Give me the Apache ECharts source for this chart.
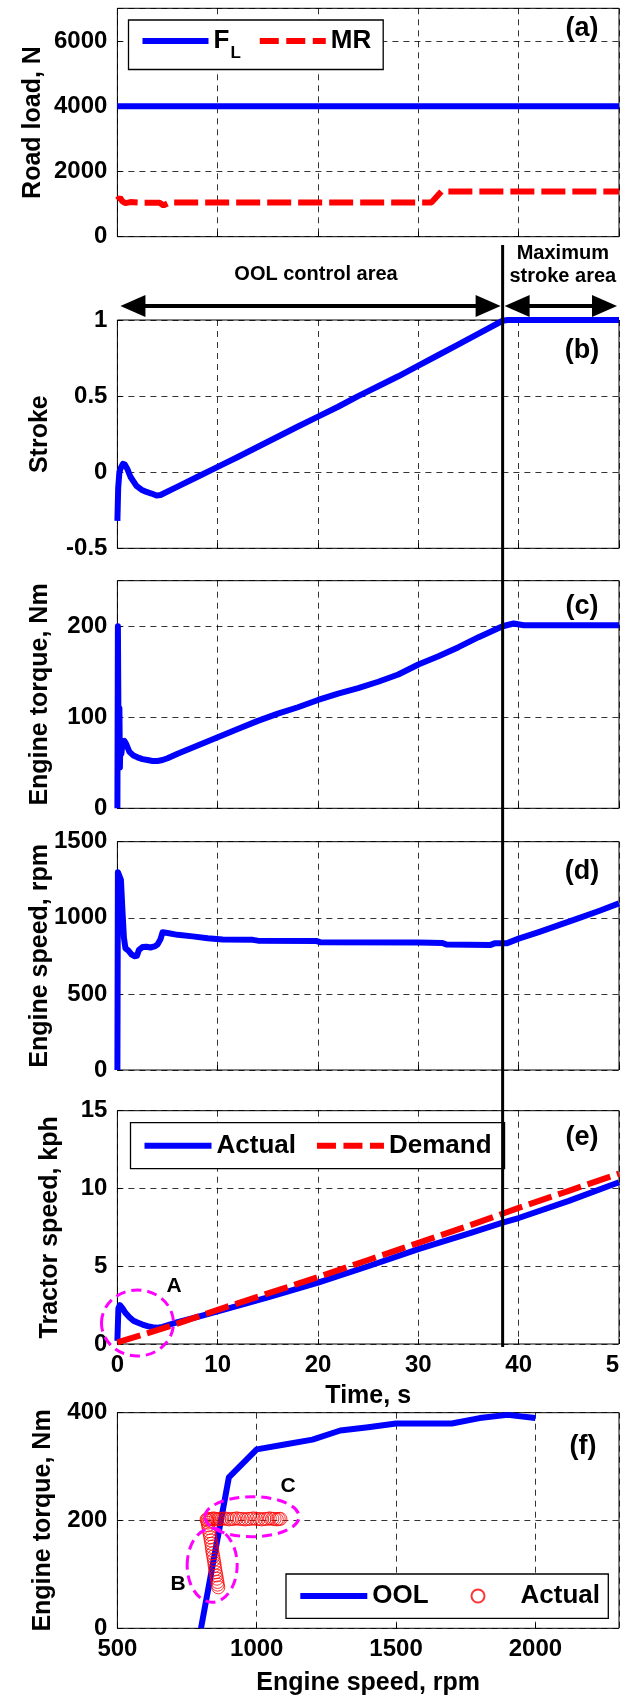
<!DOCTYPE html>
<html><head><meta charset="utf-8">
<script src="https://cdn.jsdelivr.net/npm/echarts@6/dist/echarts.min.js"></script>
<style>html,body{margin:0;padding:0;background:#fff}#c{width:620px;height:1698px}</style>
</head><body><div id="c"></div>
<script>
// ---------------- data ----------------
const timeFL = [0, 50];
const roadLoadFL = [4000, 4000];
const timeMR = [0, 0.25, 0.5, 0.8, 1.3, 2.5, 4.2, 4.6, 5.2, 31.3, 32.3, 50];
const roadLoadMR = [1120, 1200, 1080, 1030, 1060, 1040, 1040, 960, 1050, 1050, 1385, 1385];

const timeStroke = [0, 0.08, 0.2, 0.35, 0.55, 0.75, 1.0, 1.3, 1.6, 1.9, 2.4, 2.9, 3.4, 3.9, 4.3, 6, 8, 10, 12, 15, 18, 20, 22, 24, 26, 28, 30, 32, 34, 36, 38.4, 38.9, 50];
const stroke = [-0.32, -0.1, 0.0, 0.03, 0.055, 0.05, 0.02, -0.03, -0.06, -0.09, -0.115, -0.13, -0.14, -0.153, -0.15, -0.095, -0.03, 0.035, 0.1, 0.2, 0.3, 0.365, 0.43, 0.5, 0.565, 0.63, 0.7, 0.77, 0.84, 0.91, 0.995, 1.0, 1.0];

const timeTorque = [0, 0.05, 0.1, 0.15, 0.2, 0.25, 0.3, 0.4, 0.5, 0.7, 0.9, 1.2, 1.6, 2.0, 2.5, 3.0, 3.5, 4.0, 4.5, 5, 6, 8, 10, 12, 14, 16, 18, 20, 22, 24, 26, 28, 30, 32, 34, 36, 38.4, 39.5, 40.5, 50];
const engineTorque = [0, 200, 105, 50, 110, 45, 75, 60, 72, 74, 70, 62, 58, 56, 54, 53, 52, 52, 53, 55, 60, 69, 78, 87, 96, 104, 111, 119, 126, 132, 139, 147, 158, 167, 177, 188, 200, 203, 201, 201];

const timeSpeed = [0, 0.05, 0.2, 0.35, 0.5, 0.65, 0.8, 1.1, 1.4, 1.7, 1.95, 2.15, 2.5, 2.9, 3.3, 3.7, 4.0, 4.3, 4.5, 5.0, 6.0, 7.5, 9.0, 10.5, 13.5, 14, 19.8, 20.2, 30, 32.4, 32.8, 37.2, 37.6, 38.8, 40, 42, 44, 46, 48, 50];
const engineSpeed = [0, 1300, 1310, 1250, 1050, 870, 800, 785, 760, 748, 750, 790, 808, 810, 805, 812, 825, 860, 905, 900, 888, 878, 866, 858, 855, 850, 848, 840, 838, 835, 824, 822, 832, 832, 863, 906, 952, 998, 1045, 1095];

const timeActual = [0, 0.1, 0.25, 0.5, 0.8, 1.2, 1.6, 2.0, 2.5, 3.0, 3.5, 4.0, 4.5, 6, 8, 10, 15, 20, 25, 30, 35, 38.4, 40, 45, 50];
const speedActual = [0.2, 2.3, 2.5, 2.3, 2.0, 1.72, 1.5, 1.38, 1.25, 1.15, 1.08, 1.05, 1.1, 1.4, 1.75, 2.1, 3.0, 3.95, 5.0, 6.1, 7.1, 7.8, 8.1, 9.2, 10.4];
const timeDemand = [0, 5, 10, 15, 20, 25, 30, 35, 40, 45, 50];
const speedDemand = [0.1, 1.1, 2.2, 3.25, 4.3, 5.4, 6.5, 7.6, 8.75, 9.85, 10.95];

const oolRpm = [800, 900, 1000, 1100, 1200, 1300, 1400, 1500, 1600, 1700, 1800, 1900, 2000];
const oolTorque = [0, 280, 332, 341, 350, 367, 373, 380, 380, 380, 390, 396, 390];

const actualRpm = [862, 860, 859, 857, 855, 853, 851, 849, 848, 846, 844, 842, 840, 839, 837, 835, 833, 831, 829, 827, 826, 824, 822,
  820, 826, 832, 838, 845, 852, 859, 867, 875, 883, 892, 901, 910, 919, 928, 938, 948, 958, 968, 978, 988, 998, 1008, 1018, 1028, 1038, 1047, 1056, 1064, 1072, 1079, 1085];
const actualTorque = [76, 81, 86, 92, 98, 104, 110, 116, 121, 127, 133, 139, 145, 151, 157, 163, 169, 175, 180, 186, 191, 196, 200,
  202, 203, 202, 203, 204, 203, 202, 203, 203, 204, 203, 202, 203, 203, 204, 203, 203, 202, 203, 203, 204, 203, 203, 202, 203, 203, 204, 203, 203, 202, 203, 203];

const boundaryTime = 38.4;

// ---------------- styling / layout ----------------
const FONT = '"Liberation Sans", Arial, Helvetica, sans-serif';
const BLUE = '#0000ff', RED = '#ff0000', MAG = '#ff00ff';
const zip = (a, b) => a.map((v, i) => [v, b[i]]);
const gridBoxes = [
  {left: 117.4, top: 8.3, width: 501.6, height: 228.4},
  {left: 117.4, top: 320, width: 501.6, height: 228.3},
  {left: 117.4, top: 580.7, width: 501.6, height: 227.6},
  {left: 117.4, top: 841.7, width: 501.6, height: 228.3},
  {left: 117.4, top: 1110.7, width: 501.6, height: 233.3},
  {left: 117.4, top: 1412.7, width: 501.6, height: 215.6}
];
const yCfg = [
  {min: 0, max: 7000, interval: 2000, name: 'Road load, N', gap: 72, hideMax: true},
  {min: -0.5, max: 1, interval: 0.5, name: 'Stroke', gap: 65, hideMax: false},
  {min: 0, max: 250, interval: 100, name: 'Engine torque, Nm', gap: 65, hideMax: true},
  {min: 0, max: 1500, interval: 500, name: 'Engine speed, rpm', gap: 65, hideMax: false},
  {min: 0, max: 15, interval: 5, name: 'Tractor speed, kph', gap: 54.5, hideMax: false},
  {min: 0, max: 400, interval: 200, name: 'Engine torque, Nm', gap: 62, hideMax: false}
];
const labelFont = {fontFamily: FONT, fontWeight: 'bold', fontSize: 24, color: '#000'};
const titleFont = {fontFamily: FONT, fontWeight: 'bold', fontSize: 25, color: '#000'};
const splitStyle = {show: true, lineStyle: {color: '#000', width: 0.8, type: [6, 5]}};
const tickStyle = {show: true, inside: true, length: 5, lineStyle: {color: '#000', width: 1}};
const plainNum = v => String(v);

const xAxes = gridBoxes.map((g, i) => ({
  type: 'value', gridIndex: i,
  min: i < 5 ? 0 : 500, max: i < 5 ? 50 : 2300, interval: i < 5 ? 10 : 500,
  axisLine: {show: false, onZero: false},
  axisTick: tickStyle,
  axisLabel: Object.assign({show: i >= 4, margin: 9, showMaxLabel: i !== 5, hideOverlap: false, formatter: plainNum}, labelFont),
  splitLine: splitStyle,
  name: i === 4 ? 'Time, s' : (i === 5 ? 'Engine speed, rpm' : ''),
  nameLocation: 'middle', nameGap: i === 4 ? 40 : 42, nameMoveOverlap: false,
  nameTextStyle: titleFont
}));
const yAxes = yCfg.map((c, i) => ({
  type: 'value', gridIndex: i, min: c.min, max: c.max, interval: c.interval,
  axisLine: {show: false, onZero: false},
  axisTick: tickStyle,
  axisLabel: Object.assign({margin: 10, showMaxLabel: !c.hideMax, formatter: plainNum}, labelFont),
  splitLine: splitStyle,
  name: c.name, nameLocation: 'middle', nameGap: c.gap, nameMoveOverlap: false, nameTextStyle: titleFont
}));

const blueLine = {color: BLUE, width: 6, join: 'round'};
const redDash = {color: RED, width: 6, type: [24, 7]};
function lineSeries(name, gi, data, ls) {
  return {type: 'line', name, xAxisIndex: gi, yAxisIndex: gi, data, symbol: 'none', showSymbol: false,
    lineStyle: ls, itemStyle: {color: ls.color}, animation: false, z: 3};
}
const legendText = {fontFamily: FONT, fontWeight: 'bold', fontSize: 26, color: '#000'};
const legendBase = {
  orient: 'horizontal', selectedMode: false, borderColor: '#000', borderWidth: 1.3,
  backgroundColor: '#fff', itemWidth: 67, itemHeight: 14, borderRadius: 0, textStyle: legendText
};
const solidItem = n => ({name: n, itemStyle: {opacity: 0}, lineStyle: {width: 6, color: BLUE, type: 'solid'}});
const dashItem = n => ({name: n, itemStyle: {opacity: 0}, lineStyle: {width: 6, color: RED, type: [19, 7.5]}});

// legend (f) frame and item positions
const legendF = {x: 286, y: 1574, w: 322.3, h: 44.3, cy: 1596};

const option = {
  animation: false,
  backgroundColor: '#fff',
  grid: gridBoxes.map(g => Object.assign({show: true, borderColor: '#000', borderWidth: 1, backgroundColor: 'transparent', outerBoundsMode: 'none', containLabel: false}, g)),
  xAxis: xAxes,
  yAxis: yAxes,
  legend: [
    Object.assign({}, legendBase, {
      data: [solidItem('F_L'), dashItem('MR')], left: 128.5, top: 20, padding: [8, 12, 8, 11], itemGap: 16, itemWidth: 66,
      formatter: n => n === 'F_L' ? '{f|F}{s|L}' : n,
      textStyle: Object.assign({}, legendText, {
        rich: {f: Object.assign({}, legendText),
               s: Object.assign({}, legendText, {fontSize: 17, padding: [24, 0, 0, 1]})}})
    }),
    Object.assign({}, legendBase, {
      data: [solidItem('Actual'), dashItem('Demand')], left: 130.5, top: 1122.7, padding: [10, 13, 10, 11], itemGap: 18
    }),
    Object.assign({}, legendBase, {
      data: [solidItem('OOL')], left: 297.3, top: legendF.cy - 13, padding: 0, borderWidth: 0,
      backgroundColor: 'transparent', z: 10
    }),
    Object.assign({}, legendBase, {
      data: ['Actual '], left: 470.5, top: legendF.cy - 13, padding: 0, borderWidth: 0,
      backgroundColor: 'transparent', itemWidth: 13, itemHeight: 13, z: 10,
      formatter: n => '{t|' + n.trim() + '}',
      textStyle: Object.assign({}, legendText, {rich: {t: Object.assign({}, legendText, {padding: [0, 0, 0, 31]})}})
    })
  ],
  series: [
    lineSeries('F_L', 0, zip(timeFL, roadLoadFL), blueLine),
    lineSeries('MR', 0, zip(timeMR, roadLoadMR), redDash),
    lineSeries('Stroke', 1, zip(timeStroke, stroke), blueLine),
    lineSeries('Engine torque', 2, zip(timeTorque, engineTorque), blueLine),
    lineSeries('Engine speed', 3, zip(timeSpeed, engineSpeed), blueLine),
    lineSeries('Actual', 4, zip(timeActual, speedActual), blueLine),
    lineSeries('Demand', 4, zip(timeDemand, speedDemand), redDash),
    lineSeries('OOL', 5, zip(oolRpm, oolTorque), blueLine),
    {type: 'scatter', name: 'Actual ', xAxisIndex: 5, yAxisIndex: 5, data: zip(actualRpm, actualTorque),
      symbol: 'circle', symbolSize: 13, z: 4,
      itemStyle: {color: 'rgba(255,255,255,0)', borderColor: RED, borderWidth: 1}}
  ]
};

const chart = echarts.init(document.getElementById('c'), null, {renderer: 'canvas'});
chart.setOption(option);

// ---------------- annotations (positions via the axes) ----------------
const P = (g, x, y) => chart.convertToPixel({gridIndex: g}, [x, y]);
const vx = P(1, boundaryTime, 0)[0];
const arrowY = 306, headLen = 25, headHalf = 11;
function arrow(x1, x2, y) {
  return [
    {type: 'line', z: 100, shape: {x1: x1 + headLen - 2, y1: y, x2: x2 - headLen + 2, y2: y}, style: {stroke: '#000', lineWidth: 4}},
    {type: 'polygon', z: 100, shape: {points: [[x1, y], [x1 + headLen, y - headHalf], [x1 + headLen, y + headHalf]]}, style: {fill: '#000'}},
    {type: 'polygon', z: 100, shape: {points: [[x2, y], [x2 - headLen, y - headHalf], [x2 - headLen, y + headHalf]]}, style: {fill: '#000'}}
  ];
}
function txt(text, x, y, size, lh) {
  return {type: 'text', z: 101, x: x, y: y, style: {text: text, fill: '#000',
    font: 'bold ' + size + 'px ' + FONT, fontSize: size, fontWeight: 'bold', fontFamily: FONT,
    lineHeight: lh || size, textAlign: 'center', textVerticalAlign: 'middle', align: 'center', verticalAlign: 'middle'}};
}
function ell(c, rx, ry) {
  return {type: 'ellipse', z: 100, shape: {cx: c[0], cy: c[1], rx: rx, ry: ry},
    style: {fill: 'none', stroke: MAG, lineWidth: 3, lineDash: [10, 6]}};
}
const g = [];
g.push({type: 'line', z: 102, shape: {x1: vx, y1: 245, x2: vx, y2: 1347}, style: {stroke: '#000', lineWidth: 3}});
g.push(...arrow(P(1, 0.3, 0)[0], vx - 2, arrowY));
g.push(...arrow(vx + 2, P(1, 49.8, 0)[0], arrowY));
g.push(txt('OOL control area', (P(1, 0, 0)[0] + vx) / 2 + 6, 274, 20));
g.push(txt('Maximum\nstroke area', (vx + P(1, 50, 0)[0]) / 2 + 2, 265, 20, 23));
const panelLabels = [['(a)', 582, 29], ['(b)', 582, 351], ['(c)', 582, 607], ['(d)', 582, 872], ['(e)', 582, 1138], ['(f)', 583, 1447]];
panelLabels.forEach(p => g.push(txt(p[0], p[1], p[2], 27)));
g.push(ell(P(4, 2.0, 1.35), 36, 33));
g.push(ell(P(5, 840, 117), 25, 37));
g.push(ell(P(5, 983, 207), 47, 20));
g.push(txt('A', 174, 1286, 21));
g.push(txt('B', 178, 1584, 21));
g.push(txt('C', 288, 1486, 21));
g.push({type: 'rect', z: 3, shape: {x: legendF.x, y: legendF.y, width: legendF.w, height: legendF.h},
  style: {fill: '#fff', stroke: '#000', lineWidth: 1.3}});
chart.setOption({graphic: {elements: g}});
</script>
</body></html>
